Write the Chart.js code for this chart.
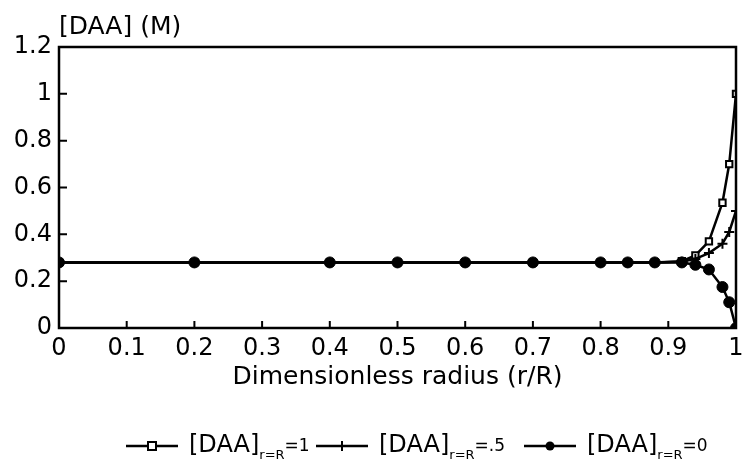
<!DOCTYPE html>
<html>
<head>
<meta charset="utf-8">
<script src="https://cdn.jsdelivr.net/npm/chart.js@4"></script>
<style>
  html, body { margin: 0; padding: 0; background: #fff; }
  #wrap { width: 743px; height: 466px; }
</style>
</head>
<body>
<div id="wrap"><canvas id="graficoRadio" width="743" height="466"></canvas></div>
<script>
// dimensionless radius r/R
const radius = [0, 0.2, 0.4, 0.5, 0.6, 0.7, 0.8, 0.84, 0.88, 0.92, 0.94, 0.96, 0.98, 0.99, 1];
// [DAA] (M) for each boundary value
const daaSurf1 = [0.28, 0.28, 0.28, 0.28, 0.28, 0.28, 0.28, 0.28, 0.28, 0.285, 0.31, 0.37, 0.535, 0.70, 1.0];
const daaSurf05 = [0.28, 0.28, 0.28, 0.28, 0.28, 0.28, 0.28, 0.28, 0.28, 0.283, 0.295, 0.32, 0.36, 0.41, 0.50];
const daaSurf0 = [0.28, 0.28, 0.28, 0.28, 0.28, 0.28, 0.28, 0.28, 0.28, 0.28, 0.27, 0.25, 0.175, 0.11, 0];
const seriesNames = ['1', '.5', '0'];
const xTicks = [0, 0.1, 0.2, 0.3, 0.4, 0.5, 0.6, 0.7, 0.8, 0.9, 1];
const yTicks = [0, 0.2, 0.4, 0.6, 0.8, 1, 1.2];

const FONT = '"DejaVu Sans", sans-serif';

const pts = vals => radius.map((r, i) => ({ x: r, y: vals[i] }));

const frameAndTitles = {
  id: 'frameAndTitles',
  afterDraw(chart) {
    const ctx = chart.ctx;
    const { left, right, top, bottom } = chart.chartArea;
    const xs = chart.scales.x, ys = chart.scales.y;
    ctx.save();
    ctx.strokeStyle = '#000';
    ctx.lineWidth = 2.5;
    ctx.strokeRect(left, top, right - left, bottom - top);

    // inward ticks
    ctx.lineWidth = 2;
    ctx.beginPath();
    xTicks.forEach(v => {
      const px = xs.getPixelForValue(v);
      ctx.moveTo(px, bottom);
      ctx.lineTo(px, bottom - 7);
    });
    yTicks.forEach(v => {
      const py = ys.getPixelForValue(v);
      ctx.moveTo(left, py);
      ctx.lineTo(left + 8, py);
    });
    ctx.stroke();

    // axis titles
    ctx.fillStyle = '#000';
    ctx.font = '25px ' + FONT;
    ctx.textBaseline = 'middle';
    ctx.textAlign = 'left';
    ctx.fillText('[DAA] (M)', 59, 27);
    ctx.textAlign = 'center';
    ctx.fillText('Dimensionless radius (r/R)', (left + right) / 2, 377);

    // legend with subscripts
    const ly = 446;
    const starts = [126, 316, 524];
    chart.data.datasets.forEach((ds, i) => {
      const x0 = starts[i];
      ctx.strokeStyle = '#000';
      ctx.lineWidth = 2.5;
      ctx.beginPath();
      ctx.moveTo(x0, ly);
      ctx.lineTo(x0 + 52, ly);
      ctx.stroke();
      const cx = x0 + 26;
      ctx.lineWidth = 2;
      if (ds.pointStyle === 'rect') {
        ctx.fillStyle = '#fff';
        ctx.fillRect(cx - 4, ly - 4, 8, 8);
        ctx.strokeRect(cx - 4, ly - 4, 8, 8);
      } else if (ds.pointStyle === 'cross') {
        ctx.beginPath();
        ctx.moveTo(cx, ly - 5);
        ctx.lineTo(cx, ly + 5);
        ctx.stroke();
      } else {
        ctx.fillStyle = '#000';
        ctx.beginPath();
        ctx.arc(cx, ly, 4.5, 0, Math.PI * 2);
        ctx.fill();
      }
      ctx.fillStyle = '#000';
      ctx.textAlign = 'left';
      ctx.font = '24px ' + FONT;
      let tx = x0 + 63;
      ctx.fillText('[DAA]', tx, ly);
      tx += ctx.measureText('[DAA]').width;
      ctx.font = '13px ' + FONT;
      ctx.fillText('r=R', tx, ly + 10);
      tx += ctx.measureText('r=R').width;
      ctx.font = '17px ' + FONT;
      ctx.fillText('=' + seriesNames[i], tx, ly + 1);
    });
    ctx.restore();
  }
};

new Chart(document.getElementById('graficoRadio').getContext('2d'), {
  type: 'line',
  data: {
    datasets: [
      {
        label: '[DAA]r=R=1',
        data: pts(daaSurf1),
        borderColor: '#000',
        borderWidth: 2.5,
        pointStyle: 'rect',
        pointRadius: 4.5,
        pointBackgroundColor: '#fff',
        pointBorderColor: '#000',
        pointBorderWidth: 2,
        order: 3
      },
      {
        label: '[DAA]r=R=.5',
        data: pts(daaSurf05),
        borderColor: '#000',
        borderWidth: 2.5,
        pointStyle: 'cross',
        pointRadius: 5,
        pointBorderColor: '#000',
        pointBorderWidth: 2,
        order: 2
      },
      {
        label: '[DAA]r=R=0',
        data: pts(daaSurf0),
        borderColor: '#000',
        borderWidth: 2.5,
        pointStyle: 'circle',
        pointRadius: 5.5,
        pointBackgroundColor: '#000',
        pointBorderColor: '#000',
        pointBorderWidth: 1,
        order: 1
      }
    ]
  },
  options: {
    responsive: false,
    animation: false,
    events: [],
    layout: { padding: { left: 0, right: 5, top: 47, bottom: 0 } },
    scales: {
      x: {
        type: 'linear',
        min: 0,
        max: 1,
        afterFit(scale) {
          scale.height = 138;
          scale.paddingLeft = 0;
          scale.paddingRight = 0;
        },
        afterBuildTicks(scale) { scale.ticks = xTicks.map(v => ({ value: v })); },
        grid: { display: false, drawTicks: false },
        border: { display: false },
        ticks: {
          color: '#000',
          padding: 6,
          maxRotation: 0,
          autoSkip: false,
          font: { family: FONT, size: 24 },
          callback: v => String(v)
        }
      },
      y: {
        type: 'linear',
        min: 0,
        max: 1.2,
        afterFit(scale) {
          scale.width = 59;
          scale.paddingTop = 0;
          scale.paddingBottom = 0;
        },
        afterBuildTicks(scale) { scale.ticks = yTicks.map(v => ({ value: v })); },
        grid: { display: false, drawTicks: false },
        border: { display: false },
        ticks: {
          color: '#000',
          padding: 7,
          font: { family: FONT, size: 24 },
          callback: v => String(v)
        }
      }
    },
    plugins: {
      legend: { display: false },
      tooltip: { enabled: false }
    }
  },
  plugins: [frameAndTitles]
});
</script>
</body>
</html>
